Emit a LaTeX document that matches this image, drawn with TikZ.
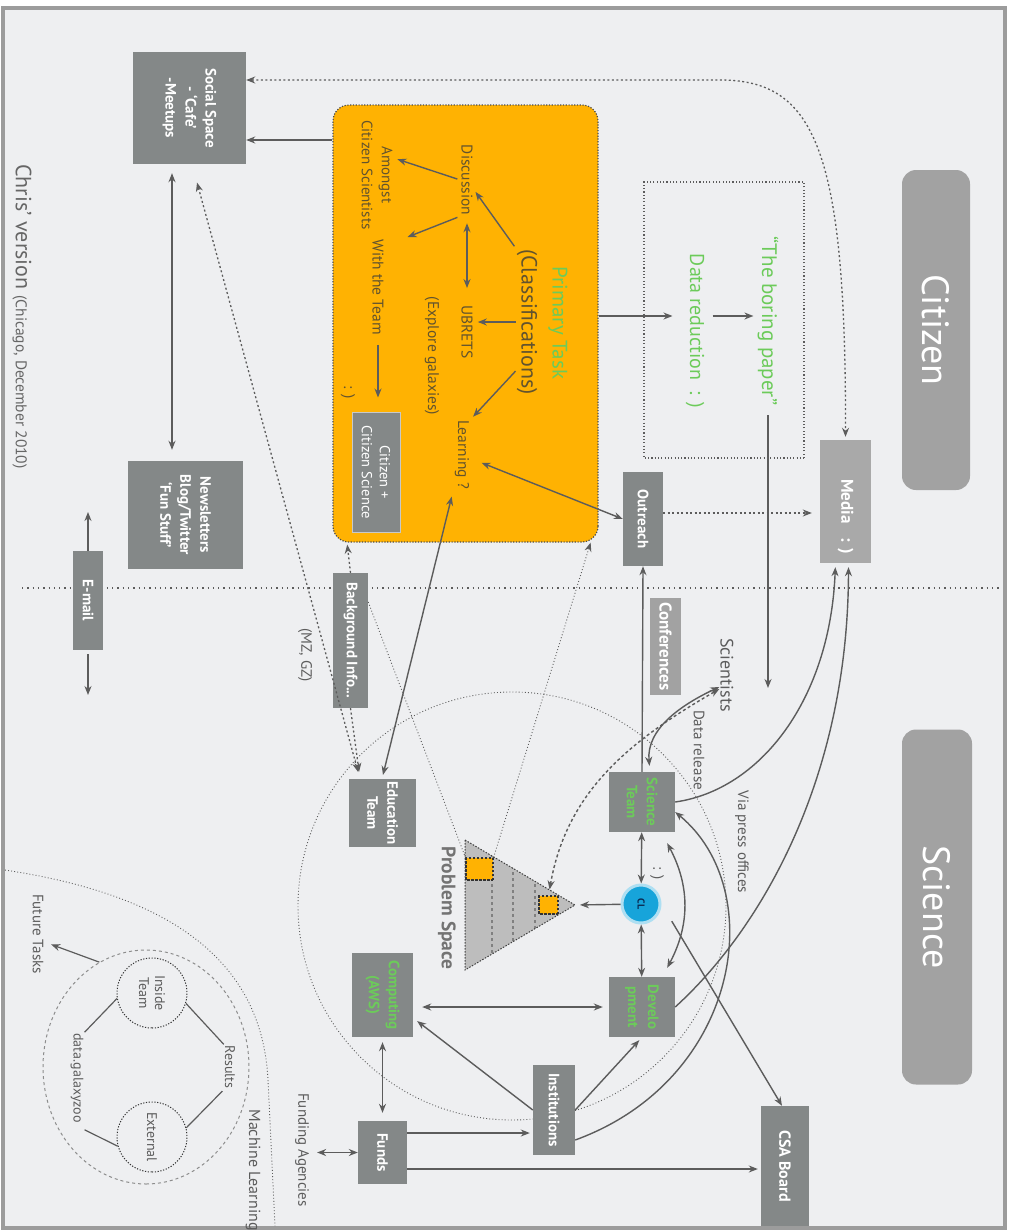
\documentclass[tikz,border=0pt]{standalone}
\usepackage{fontspec}
\setmainfont{PT Sans}
\usetikzlibrary{arrows.meta,positioning,shapes.geometric,calc}
\definecolor{PanelBg}{HTML}{EEEFF1}
\definecolor{FrameGray}{HTML}{9C9C9C}
\definecolor{BoxGray}{HTML}{848888}
\definecolor{SoftGray}{HTML}{A9A9A9}
\definecolor{HeadGray}{HTML}{A2A2A2}
\definecolor{LineGray}{HTML}{5C5C5C}
\definecolor{PsGray}{HTML}{BDBDBD}
\definecolor{TaskOrange}{HTML}{FFB202}
\definecolor{TaskInk}{HTML}{62532E}
\definecolor{LeafGreen}{HTML}{6CCB5A}
\definecolor{ClBlue}{HTML}{17A4DA}
\definecolor{ClInk}{HTML}{0B2C55}
\newcommand{\fsz}[2]{\fontsize{#1}{#2}\selectfont}

\begin{document}
\begin{tikzpicture}[x=1pt, y=-1pt, >={Stealth[length=9pt,width=7pt]},
  every node/.style={rotate=-90, inner sep=1pt},
  gbox/.style={fill=BoxGray, text=white, align=center, font=\fsz{15}{20}\bfseries},
  sbox/.style={gbox, fill=SoftGray},
  headbox/.style={fill=HeadGray, text=white, rounded corners=14pt, font=\fsz{38}{40}},
  lbl/.style={text=LineGray, align=center, font=\fsz{15}{18}},
  tasklbl/.style={text=TaskInk, align=center, font=\fsz{15.5}{20}},
  conn/.style={draw=LineGray, line width=1.4pt},
  dotconn/.style={conn, line width=1.3pt, dash pattern=on 2pt off 2.5pt},
  dashconn/.style={conn, dash pattern=on 3pt off 2.5pt},
  fine/.style={draw=LineGray, line width=0.9pt, dash pattern=on 0.9pt off 2.2pt},
  hotspot/.style={fill=TaskOrange, draw=black!80, line width=1.2pt, dash pattern=on 2.5pt off 1.5pt}
]
\useasboundingbox (0,0) rectangle (1014,1231);
\fill[white] (0,0) rectangle (1014,1231);
\fill[PanelBg] (3,8) rectangle (1005,1228);
\draw[FrameGray, line width=4pt] (3,8) rectangle (1005,1228);

% guide lines behind everything
\draw[conn, line width=1.3pt, dash pattern=on 1.3pt off 4pt] (22,588) -- (1000,588);
\draw[fine] (512,906) circle (214pt);
\draw[fine] (5,870) .. controls (170,895) and (262,960) .. (268,1080) -- (275,1226);

% headers
\node[headbox, minimum width=320pt, minimum height=68pt] (citizenhd) at (936,330) {Citizen};
\node[headbox, minimum width=355pt, minimum height=70pt] (sciencehd) at (937,907) {Science};

% primary task area
\node[fill=TaskOrange, draw=black!70, line width=1.2pt, dash pattern=on 1.2pt off 1.6pt, rounded corners=16pt, minimum width=437pt, minimum height=265pt] (taskarea) at (465.5,323.5) {};
\node[text=LeafGreen, font=\fsz{21}{23}] (primary) at (558,323) {Primary Task};
\node[tasklbl, font=\fsz{22}{24}] (classif) at (527,322) {(Classifications)};
\node[tasklbl] (discussion) at (467,180) {Discussion};
\node[tasklbl, font=\fsz{15}{20}] (amongst) at (377,175) {Amongst\\Citizen Scientists};
\node[tasklbl] (ubrets) at (467,332) {UBRETS};
\node[tasklbl] (explore) at (432,356) {(Explore galaxies)};
\node[tasklbl] (withteam) at (378,287) {With the Team};
\node[tasklbl] (tasksmile) at (348,392) {: )};
\node[tasklbl] (learning) at (462,455) {Learning ?};
\node[gbox, draw=white!55!BoxGray, line width=1pt, minimum width=120pt, minimum height=48pt, font=\fsz{14.5}{18}] (citsci) at (376,472) {Citizen +\\Citizen Science};

% data reduction
\node[draw=LineGray, line width=1.1pt, dash pattern=on 1.1pt off 2.2pt, minimum width=276pt, minimum height=160pt] (redbox) at (724,320) {};
\node[text=LeafGreen, font=\fsz{20}{22}] (reduction) at (695,331) {Data reduction\ \ : )};
\node[text=LeafGreen, font=\fsz{21}{23}] (paper) at (768,321) {“The boring paper”};

% citizen side boxes
\node[gbox, minimum width=112pt, minimum height=113pt] (social) at (189.5,108) {Social Space\\- ‘Cafe’\\-Meetups};
\node[gbox, minimum width=108pt, minimum height=115pt] (news) at (185.5,515) {Newsletters\\Blog/Twitter\\‘Fun Stuff’};
\node[gbox, minimum width=99pt, minimum height=30pt] (email) at (88,600.5) {E-mail};
\node[sbox, minimum width=123pt, minimum height=51pt, font=\fsz{17}{20}\bfseries] (media) at (845.5,501.5) {\hspace*{30pt}Media\hspace{14pt}: )};
\node[gbox, minimum width=94pt, minimum height=40pt] (outreach) at (643,519) {Outreach};
\node[sbox, fill=HeadGray, minimum width=97pt, minimum height=31pt, font=\fsz{17}{19}\bfseries] (conf) at (665.5,646.5) {Conferences};
\node[gbox, minimum width=135pt, minimum height=35pt] (bginfo) at (350.5,640.5) {Background Info...};

% science side boxes
\node[gbox, text=LeafGreen, minimum width=60pt, minimum height=66pt] (sciteam) at (642,802) {Science\\Team};
\node[gbox, text=LeafGreen, minimum width=60pt, minimum height=66pt] (dev) at (642,1007) {Develo\\pment};
\node[circle, fill=ClBlue, draw=ClBlue!35, line width=3pt, minimum size=38pt, text=ClInk, font=\fsz{10}{12}\bfseries] (cl) at (641,904) {CL};
\node[gbox, minimum width=68pt, minimum height=67pt] (edu) at (382.5,813) {Education\\Team};
\node[gbox, text=LeafGreen, minimum width=84pt, minimum height=61pt] (computing) at (382.5,995) {Computing\\(AWS)};
\node[gbox, minimum width=90pt, minimum height=42pt] (inst) at (554,1110) {Institutions};
\node[gbox, minimum width=63pt, minimum height=49pt] (funds) at (382.5,1152.5) {Funds};
\node[gbox, minimum width=120pt, minimum height=48pt, font=\fsz{16}{20}\bfseries] (csa) at (785,1166) {CSA Board};

% problem space
\coordinate (pstop) at (465,840);
\coordinate (psbot) at (465,970);
\coordinate (pstip) at (575,905);
\fill[PsGray] (pstop) -- (pstip) -- (psbot) -- cycle;
\begin{scope}
  \clip (pstop) -- (pstip) -- (psbot) -- cycle;
  \foreach \px in {492,513,535}
    \draw[gray, line width=1.4pt, dash pattern=on 3pt off 3pt] (\px,830) -- (\px,980);
\end{scope}
\draw[black!75, line width=1pt, dash pattern=on 1.5pt off 1.5pt] (pstop) -- (pstip) -- (psbot) -- cycle;
\node[hotspot, minimum width=22pt, minimum height=27pt] (psbig) at (479.5,869) {};
\node[hotspot, minimum width=18pt, minimum height=19pt] (pssmall) at (548.5,905) {};
\node[text=black!55, font=\fsz{19.5}{22}\bfseries] (pslabel) at (447,908) {Problem Space};

% free labels
\node[anchor=west, text=black!60] (version) at (22,163) {\fsz{22}{24}Chris’ version \fsz{15.5}{17}(Chicago, December 2010)};
\node[lbl] (mzgz) at (305,655) {(MZ, GZ)};
\node[lbl, font=\fsz{18}{20}] (scientists) at (727,675) {Scientists};
\node[lbl] (datarel) at (699,750) {Data release};
\node[lbl] (viapress) at (742,842) {Via press offices};
\node[lbl] (clsmile) at (657,873) {: )};
\node[lbl] (funding) at (302,1150) {Funding Agencies};
\node[lbl, font=\fsz{16}{18}] (mlearn) at (253,1170) {Machine Learning};
\node[lbl] (future) at (38,934) {Future Tasks};

% machine learning cluster
\node[ellipse, draw=LineGray!70, line width=1pt, dash pattern=on 3pt off 3pt, minimum width=234pt, minimum height=206pt] (mlzone) at (146,1067) {};
\node[circle, draw=black!80, line width=1pt, dash pattern=on 1.2pt off 1.6pt, minimum size=70pt, lbl, font=\fsz{14}{16}] (insideteam) at (152,993) {Inside\\Team};
\node[circle, draw=black!80, line width=1pt, dash pattern=on 1.2pt off 1.6pt, minimum size=70pt, lbl, font=\fsz{14}{16}] (external) at (152,1137) {External};
\node[lbl, font=\fsz{14}{16}] (results) at (230,1067) {Results};
\node[lbl, font=\fsz{14}{16}] (galaxy) at (77,1078) {data.galaxyzoo};
\draw[conn, line width=1.2pt] (insideteam.73) -- (results.south west);
\draw[conn, line width=1.2pt, shorten <=2pt] (results.south east) -- (external.105);
\draw[conn, line width=1.2pt] (insideteam.279) -- (galaxy.north west);
\draw[conn, line width=1.2pt] (external.285) -- ([yshift=-6pt]galaxy.north east);
\draw[conn, ->, line width=1.2pt, shorten >=7pt] (mlzone.204) -- ([yshift=-8pt]future.north);

% inside the task area
\draw[conn,->,shorten <=2pt,shorten >=3pt] (classif.south west) -- (discussion);
\draw[conn,->,shorten >=4pt] (classif.south) -- (classif.south -| ubrets.north);
\draw[conn,->,shorten >=4pt] ([yshift=25pt]classif.south east) -- (learning.north west);
\draw[conn,<->,shorten <=7pt,shorten >=16pt] (discussion.east) -- (ubrets.west);
\draw[conn,->,shorten <=3pt,shorten >=4pt] (discussion.south) -- ([yshift=17pt]amongst.north);
\draw[conn,->,shorten <=3pt,shorten >=3pt] (discussion.south east) -- ([xshift=20pt]withteam.north west);
\draw[conn,->,shorten <=9pt,shorten >=14pt] (withteam.east) -- (withteam.east |- citsci.west);

% citizen side
\draw[conn,->] (taskarea.south |- 0,140) -- (social.north |- 0,140);
\draw[dotconn,<->,shorten >=3pt] (social.north |- 0,80) -- (720,80) .. controls (815,80) and (846,150) .. (media.west);
\draw[conn,<->,shorten <=9pt,shorten >=11pt] (social.east -| 172,0) -- (news.west -| 172,0);
\coordinate (mailup) at (88,512);
\coordinate (maildown) at (88,695);
\draw[conn,->] (email.west) -- (mailup);
\draw[conn,->,shorten <=4pt] (email.east) -- (maildown);
\draw[dotconn,<->,shorten <=19pt,shorten >=7pt] (social.east -| 192,0) -- (edu.west -| 360,0);
\draw[dotconn,->,shorten >=2pt] (bginfo.west) -- (taskarea.east -| 347,0);
\draw[dotconn,->,shorten >=7pt] (bginfo.east) -- (edu.west -| 360,0);
\draw[fine] (bginfo.north |- 0,602) -- (psbig.south west);
\draw[fine,->] (psbig.north west) -- ([xshift=-8pt]taskarea.north east);
\draw[conn,->,shorten >=12pt] (taskarea.north |- 0,316) -- (reduction.south |- 0,316);
\draw[conn,->,shorten <=7pt,shorten >=3pt] (reduction.north |- 0,316) -- (paper.south |- 0,316);
\draw[conn,->,shorten <=9pt] (paper.east) -- (paper.east |- 0,688);
\draw[conn,<->,shorten <=12pt] (learning) -- (outreach.south);
\draw[conn,<->,shorten <=8pt,shorten >=4pt] (learning) -- (edu.west -| 382,0);
\draw[dotconn,->,shorten >=8pt] (outreach.north |- 0,513) -- (media.south |- 0,513);

% science side
\draw[conn,->] (sciteam.west) -- (outreach.east);
\draw[conn,<->] (sciteam) -- (cl);
\draw[conn,<->] (cl) -- (dev);
\draw[conn,->,shorten >=5pt] (cl) -- (pstip);
\draw[conn,->,shorten <=20pt] (cl.north) -- ([xshift=-3pt]csa.west);
\draw[conn,<->] ([xshift=-8pt,yshift=-11pt]sciteam.north east) to[bend left=28] ([xshift=-8pt,yshift=9pt]dev.north west);
\draw[conn,<->,shorten <=6pt] ([xshift=8pt]sciteam.west) to[out=95,in=205] ([yshift=-12pt]scientists.south);
\draw[dashconn,<->,shorten <=6pt] (pssmall.west) to[out=80,in=210] ([yshift=-14pt]scientists.south);
\draw[conn,->,shorten >=4pt] (sciteam.north) .. controls (760,790) and (830,700) .. ([xshift=-10pt]media.east);
\draw[conn,->,shorten >=4pt] (dev.north) .. controls (760,930) and (848,780) .. ([xshift=3pt]media.east);
\draw[conn,->] ([yshift=-30pt]inst.north) .. controls (740,1080) and (770,890) .. ([yshift=-10pt]sciteam.north);
\draw[conn,<->,shorten <=9pt,shorten >=6pt] (computing.north |- dev.south) -- (dev.south);
\draw[conn,->,shorten >=5pt] (inst.south) -- ([yshift=-23pt]computing.north);
\draw[conn,->,shorten >=4pt] (inst.north) -- (dev.east);
\draw[conn,<->,shorten <=5pt,shorten >=8pt] (computing.east) -- (funds.west);
\draw[conn,->,shorten >=3pt] (funds.north |- 0,1133) -- (inst.south |- 0,1133);
\draw[conn,->,shorten >=3pt] (funds.north |- 0,1169) -- (csa.south |- 0,1169);
\draw[conn,<->,shorten >=7pt] (funds.south) -- (funding.north |- funds.south);
\end{tikzpicture}
\end{document}
